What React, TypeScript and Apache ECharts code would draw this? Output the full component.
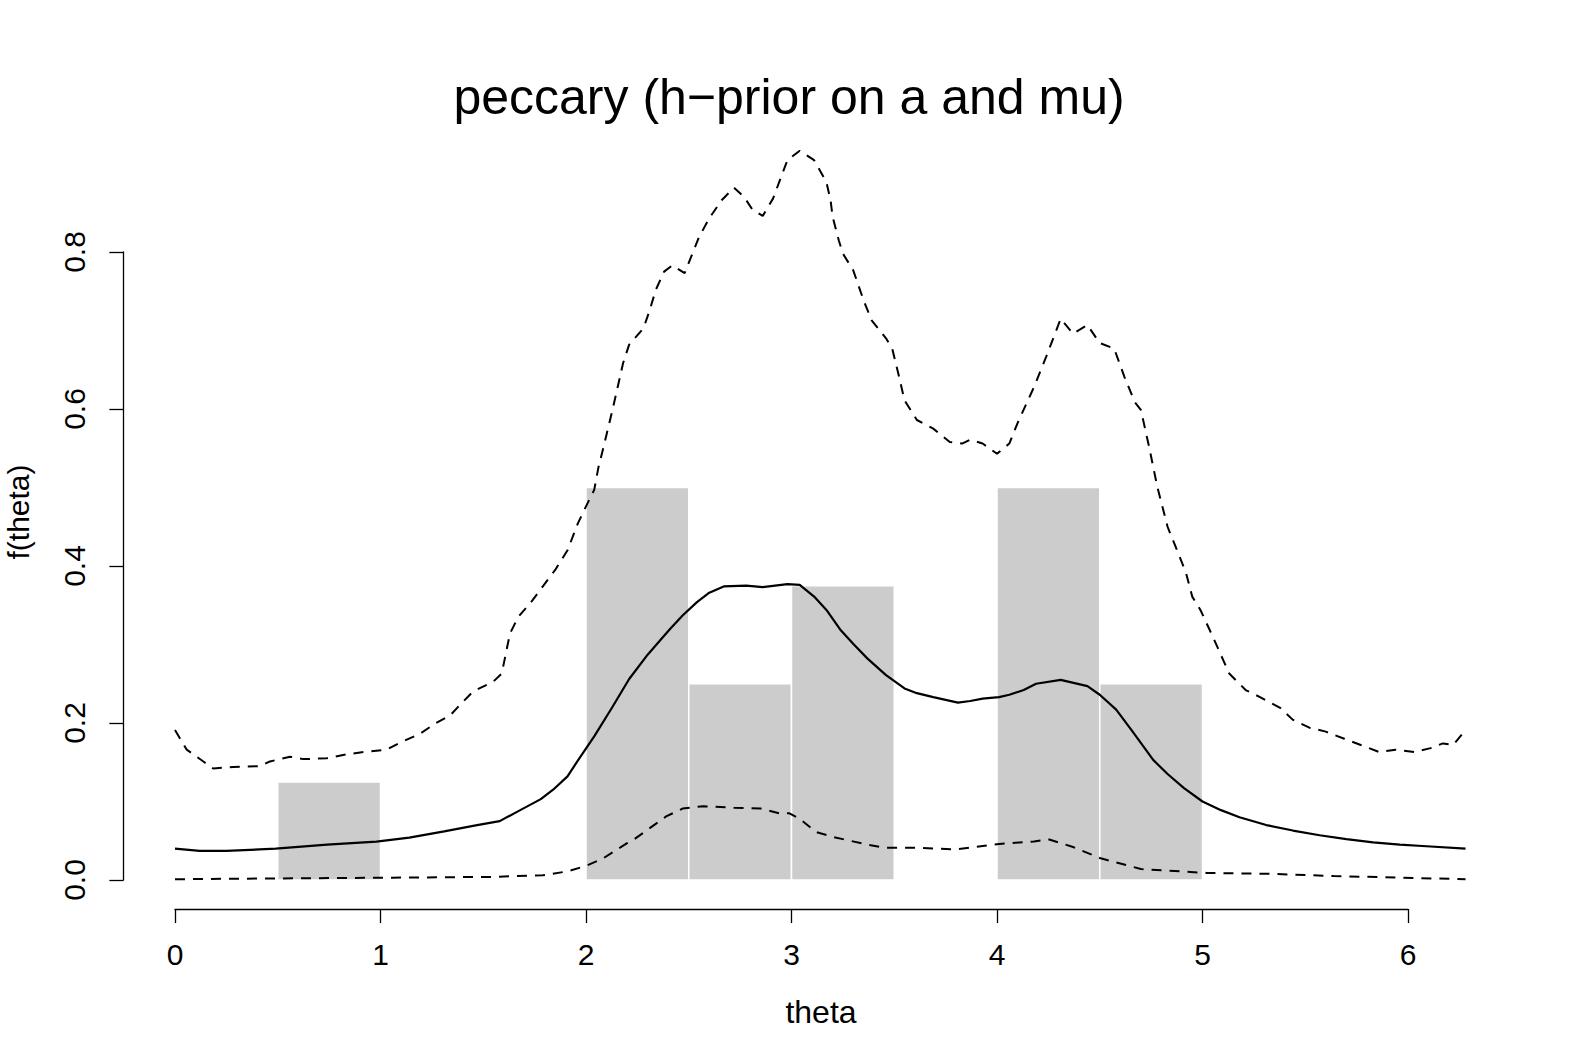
import React, { useEffect, useRef } from "react";
import * as echarts from "echarts";

// Histogram bins (theta) and densities
const binStart = [0.5, 2.0, 2.5, 3.0, 4.0, 4.5];
const binEnd = [1.0, 2.5, 3.0, 3.5, 4.5, 5.0];
const binDensity = [0.125, 0.5, 0.25, 0.375, 0.5, 0.25];

// Posterior mean density (solid line): [theta, f]
const meanCurve: [number, number][] = [
  [0, 0.040], [0.12, 0.037], [0.25, 0.037], [0.49, 0.040], [0.74, 0.045], [0.98, 0.049],
  [1.14, 0.054], [1.31, 0.062], [1.47, 0.070], [1.58, 0.075], [1.68, 0.089], [1.78, 0.103],
  [1.84, 0.115], [1.91, 0.132], [1.97, 0.156], [2.04, 0.183], [2.13, 0.221], [2.21, 0.256],
  [2.30, 0.287], [2.36, 0.305], [2.41, 0.320], [2.47, 0.337], [2.54, 0.354], [2.60, 0.366],
  [2.67, 0.374], [2.78, 0.375], [2.86, 0.373], [2.98, 0.377], [3.04, 0.376], [3.11, 0.361],
  [3.17, 0.344], [3.24, 0.318], [3.30, 0.301], [3.37, 0.282], [3.46, 0.261], [3.55, 0.244],
  [3.61, 0.238], [3.69, 0.233], [3.81, 0.226], [3.87, 0.228], [3.93, 0.231], [4.01, 0.233],
  [4.06, 0.236], [4.13, 0.242], [4.19, 0.250], [4.31, 0.255], [4.44, 0.247], [4.50, 0.236],
  [4.58, 0.217], [4.66, 0.189], [4.76, 0.153], [4.83, 0.135], [4.91, 0.117], [5.00, 0.100],
  [5.09, 0.089], [5.18, 0.080], [5.31, 0.070], [5.44, 0.063], [5.57, 0.057], [5.70, 0.052],
  [5.83, 0.048], [5.96, 0.045], [6.09, 0.043], [6.28, 0.040],
];

// Upper band (dashed)
const upperCurve: [number, number][] = [
  [0, 0.191], [0.057, 0.166], [0.138, 0.151], [0.186, 0.142], [0.284, 0.144], [0.414, 0.145],
  [0.462, 0.151], [0.56, 0.157], [0.624, 0.154], [0.738, 0.155], [0.835, 0.160], [0.917, 0.163],
  [1.03, 0.166], [1.095, 0.175], [1.19, 0.186], [1.27, 0.200], [1.34, 0.210], [1.39, 0.224],
  [1.45, 0.240], [1.55, 0.253], [1.59, 0.263], [1.63, 0.314], [1.67, 0.335], [1.73, 0.353],
  [1.79, 0.374], [1.85, 0.395], [1.91, 0.420], [1.96, 0.454], [2.0, 0.476], [2.04, 0.497],
  [2.06, 0.525], [2.084, 0.550], [2.13, 0.600], [2.18, 0.658], [2.21, 0.682], [2.28, 0.703],
  [2.31, 0.726], [2.34, 0.752], [2.38, 0.775], [2.42, 0.783], [2.48, 0.773], [2.55, 0.819],
  [2.60, 0.843], [2.66, 0.866], [2.72, 0.882], [2.77, 0.870], [2.81, 0.854], [2.86, 0.846],
  [2.91, 0.868], [2.95, 0.896], [2.98, 0.917], [3.04, 0.929], [3.11, 0.917], [3.17, 0.889],
  [3.19, 0.866], [3.20, 0.845], [3.23, 0.815], [3.25, 0.798], [3.30, 0.777], [3.35, 0.739],
  [3.39, 0.713], [3.46, 0.690], [3.49, 0.677], [3.52, 0.645], [3.55, 0.611], [3.61, 0.586],
  [3.69, 0.575], [3.77, 0.558], [3.83, 0.556], [3.87, 0.561], [3.93, 0.556], [4.0, 0.543],
  [4.06, 0.556], [4.10, 0.582], [4.18, 0.628], [4.24, 0.667], [4.31, 0.715], [4.37, 0.696],
  [4.44, 0.707], [4.50, 0.684], [4.57, 0.677], [4.62, 0.641], [4.67, 0.609], [4.70, 0.599],
  [4.74, 0.552], [4.78, 0.501], [4.83, 0.450], [4.87, 0.424], [4.92, 0.391], [4.95, 0.361],
  [4.99, 0.344], [5.05, 0.310], [5.13, 0.263], [5.21, 0.242], [5.28, 0.233], [5.38, 0.219],
  [5.44, 0.204], [5.52, 0.194], [5.60, 0.189], [5.69, 0.180], [5.77, 0.172], [5.86, 0.163],
  [5.94, 0.166], [6.03, 0.163], [6.11, 0.168], [6.17, 0.174], [6.22, 0.172], [6.28, 0.191],
];

// Lower band (dashed)
const lowerCurve: [number, number][] = [
  [0, 0.001], [0.49, 0.002], [1.06, 0.003], [1.55, 0.004], [1.79, 0.006], [1.91, 0.011],
  [2.0, 0.018], [2.08, 0.027], [2.2, 0.047], [2.23, 0.051], [2.39, 0.081], [2.47, 0.091],
  [2.57, 0.094], [2.72, 0.092], [2.85, 0.091], [2.94, 0.085], [2.99, 0.085], [3.04, 0.078],
  [3.12, 0.061], [3.20, 0.055], [3.37, 0.045], [3.46, 0.041], [3.61, 0.041], [3.80, 0.039],
  [4.01, 0.046], [4.18, 0.049], [4.25, 0.052], [4.37, 0.042], [4.50, 0.028], [4.70, 0.014],
  [4.83, 0.012], [5.02, 0.009], [5.31, 0.008], [5.64, 0.005], [5.96, 0.003], [6.28, 0.001],
];

const xTickMax = 6;
const yTickMax = 0.8;
const titleText = "peccary (h\u2212prior on a and mu)";
const xLabel = "theta";
const yLabel = "f(theta)";

export default function App() {
  const ref = useRef<HTMLDivElement>(null);
  useEffect(() => {
    if (!ref.current) return;
    const chart = echarts.init(ref.current, undefined, { renderer: "svg" });
    const font = "'Liberation Sans', Arial, Helvetica, sans-serif";

    // layout (pixels)
    const PX0 = 175; // pixel of theta = 0
    const PXU = 205.5; // pixels per unit theta
    const PY0 = 880; // pixel of f = 0
    const PYU = 785; // pixels per unit f
    const xMin = -0.2513, xMax = 6.5345;
    const yMin = -0.037, yMax = 0.962;

    const barData = binStart.map((s, i) => [s, binEnd[i], binDensity[i]]);

    const option: any = {
      animation: false,
      backgroundColor: "#ffffff",
      textStyle: { fontFamily: font },
      grid: [
        {
          left: PX0 + xMin * PXU,
          top: PY0 - yMax * PYU,
          width: (xMax - xMin) * PXU,
          height: (yMax - yMin) * PYU,
          containLabel: false,
        },
        {
          left: PX0,
          top: PY0 - yTickMax * PYU,
          width: xTickMax * PXU,
          height: yTickMax * PYU,
          containLabel: false,
        },
      ],
      xAxis: [
        { type: "value", gridIndex: 0, min: xMin, max: xMax, show: false },
        {
          type: "value",
          gridIndex: 1,
          min: 0,
          max: xTickMax,
          interval: 1,
          position: "bottom",
          offset: -yMin * PYU,
          axisLine: { show: true, onZero: false, lineStyle: { color: "#000", width: 1.3 } },
          axisTick: { show: true, length: 14, lineStyle: { color: "#000", width: 1.3 } },
          axisLabel: { color: "#000", fontSize: 30, margin: 30, fontFamily: font },
          splitLine: { show: false },
        },
      ],
      yAxis: [
        { type: "value", gridIndex: 0, min: yMin, max: yMax, show: false },
        {
          type: "value",
          gridIndex: 1,
          min: 0,
          max: yTickMax,
          interval: 0.2,
          position: "left",
          offset: -xMin * PXU,
          axisLine: { show: true, onZero: false, lineStyle: { color: "#000", width: 1.3 } },
          axisTick: { show: true, length: 14, lineStyle: { color: "#000", width: 1.3 } },
          axisLabel: {
            color: "#000",
            fontSize: 30,
            margin: 34,
            rotate: 90,
            fontFamily: font,
            formatter: (v: number) => v.toFixed(1),
          },
          splitLine: { show: false },
        },
      ],
      series: [
        {
          type: "custom",
          xAxisIndex: 0,
          yAxisIndex: 0,
          data: barData,
          encode: { x: [0, 1], y: 2 },
          renderItem: (params: any, api: any) => {
            const p1 = api.coord([api.value(0), api.value(2)]);
            const p2 = api.coord([api.value(1), 0]);
            return {
              type: "rect",
              shape: { x: p1[0], y: p1[1], width: p2[0] - p1[0], height: p2[1] - p1[1] },
              style: { fill: "#cccccc", stroke: "#ffffff", lineWidth: 1.5 },
            };
          },
          z: 1,
        },
        {
          type: "line",
          xAxisIndex: 0,
          yAxisIndex: 0,
          data: upperCurve,
          showSymbol: false,
          symbol: "none",
          lineStyle: { color: "#000", width: 2, type: [10, 8] },
          z: 3,
        },
        {
          type: "line",
          xAxisIndex: 0,
          yAxisIndex: 0,
          data: meanCurve,
          showSymbol: false,
          symbol: "none",
          lineStyle: { color: "#000", width: 2.2, type: "solid" },
          z: 3,
        },
        {
          type: "line",
          xAxisIndex: 0,
          yAxisIndex: 0,
          data: lowerCurve,
          showSymbol: false,
          symbol: "none",
          lineStyle: { color: "#000", width: 2, type: [10, 8] },
          z: 3,
        },
      ],
      graphic: [
        {
          type: "text",
          x: 789,
          y: 97,
          style: {
            text: titleText,
            fill: "#000",
            font: `50px ${font}`,
            textAlign: "center",
            textVerticalAlign: "middle",
          },
        },
        {
          type: "text",
          x: 821,
          y: 1012,
          style: {
            text: xLabel,
            fill: "#000",
            font: `32px ${font}`,
            textAlign: "center",
            textVerticalAlign: "middle",
          },
        },
        {
          type: "text",
          x: 18,
          y: 512,
          rotation: Math.PI / 2,
          style: {
            text: yLabel,
            fill: "#000",
            font: `30px ${font}`,
            textAlign: "center",
            textVerticalAlign: "middle",
          },
        },
      ],
    };
    chart.setOption(option);
    return () => chart.dispose();
  }, []);
  return (
    <div
      ref={ref}
      style={{ position: "fixed", left: 0, top: 0, width: 1582, height: 1063, background: "#fff" }}
    />
  );
}
